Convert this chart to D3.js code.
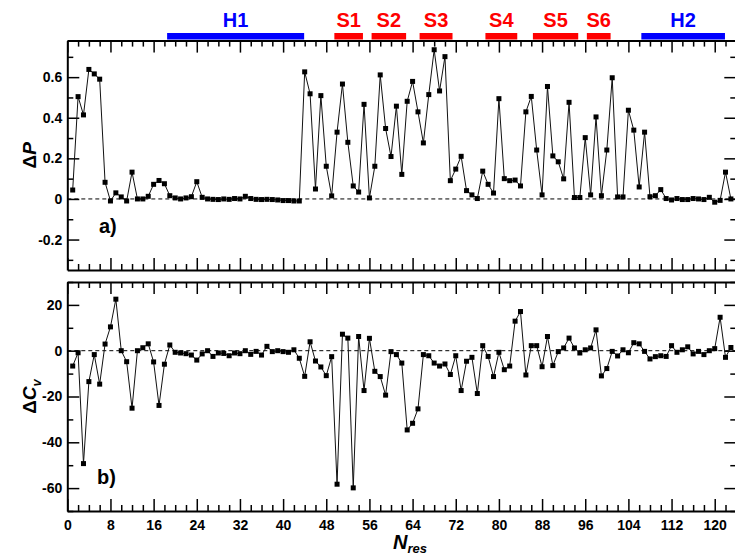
<!DOCTYPE html>
<html>
<head>
<meta charset="utf-8">
<script src="https://cdnjs.cloudflare.com/ajax/libs/d3/7.8.5/d3.min.js"></script>
<style>
  body { margin: 0; background: #fff; }
  svg { display: block; }
  text { font-family: "Liberation Sans", Arial, Helvetica, sans-serif; font-weight: bold; fill: #000; }
</style>
</head>
<body>
<div id="chart"></div>
<script>
// Data
// ================================
var residues = d3.range(1, 124);

var deltaP = [
  0.044, 0.504, 0.414, 0.638, 0.616, 0.590, 0.082, -0.010, 0.030, 0.010,
  -0.010, 0.132, 0.000, 0.000, 0.013, 0.072, 0.091, 0.075, 0.016, 0.005,
  0.000, 0.005, 0.011, 0.085, 0.008, 0.000, -0.002, -0.003, 0.000, -0.002,
  0.002, 0.000, 0.013, 0.002, -0.002, -0.003, -0.002, -0.003, -0.005, -0.008,
  -0.008, -0.010, -0.010, 0.626, 0.518, 0.049, 0.509, 0.161, 0.015, 0.329,
  0.566, 0.279, 0.064, 0.034, 0.466, 0.005, 0.161, 0.611, 0.347, 0.209,
  0.457, 0.121, 0.481, 0.579, 0.429, 0.276, 0.514, 0.735, 0.532, 0.701,
  0.090, 0.147, 0.210, 0.041, 0.020, 0.002, 0.137, 0.072, 0.029, 0.494,
  0.100, 0.090, 0.093, 0.064, 0.429, 0.505, 0.241, 0.020, 0.554, 0.212,
  0.183, 0.099, 0.476, 0.007, 0.007, 0.302, 0.020, 0.404, 0.016, 0.241,
  0.597, 0.010, 0.010, 0.437, 0.339, 0.059, 0.329, 0.011, 0.016, 0.046,
  0.002, -0.005, 0.002, -0.003, -0.003, 0.002, 0.000, -0.003, 0.008, -0.016,
  -0.007, 0.132, 0.000
];

var deltaCv = [
  -6.7, -0.9, -49.3, -13.5, -1.7, -14.6, 2.9, 10.4, 22.5, 0,
  -4.8, -25.1, 0, 1.3, 3.0, -4.9, -23.9, -5.9, 2.5, -0.7,
  -1.0, -1.3, -1.9, -4.1, -1.4, 0, -2.5, -1.0, -1.2, -2.2,
  -1.0, -1.3, 0, -1.6, -0.3, -1.9, 1.9, -0.4, 0, -0.4,
  -0.7, 0.4, -3.3, -11.2, 3.9, -4.5, -7.1, -10.9, -2.6, -58.3,
  7.2, 5.5, -59.9, 6.2, -17.4, 5.4, -9.0, -11.3, -19.4, -0.4,
  -1.7, -5.4, -34.6, -31.7, -25.4, -1.7, -2.2, -5.4, -6.7, -5.8,
  -10.4, -2.2, -17.4, -4.6, -2.9, -18.7, 2.2, -2.5, -11.3, -0.7,
  -8.3, -6.7, 12.9, 17.1, -10.6, 2.2, 2.2, -7.0, 6.2, -6.5,
  -0.4, 1.2, 5.5, 1.2, -1.0, 0.4, 1.2, 9.1, -11.0, -7.8,
  -0.3, -2.3, 0.4, -0.9, 3.5, 3.0, -0.3, -3.6, -2.6, -2.2,
  -2.5, 2.2, -0.7, 0.4, 1.7, -1.4, -0.3, -1.7, 0, 0.9,
  14.6, -2.9, 1.4
];

// secondary structure segments (residue numbers)
var segNames = ["H1", "S1", "S2", "S3", "S4", "S5", "S6", "H2"];
var segStart = [18.5, 49.5, 56.4, 65.3, 77.5, 86.3, 96.3, 106.4];
var segEnd = [43.9, 54.8, 62.8, 71.4, 83.4, 94.7, 100.7, 121.9];

var xTicks = d3.range(0, 121, 8);
var pTicks = [-0.2, 0, 0.2, 0.4, 0.6];
var cvTicks = [-60, -40, -20, 0, 20];

// Set up chart
// ================================
var svgWidth = 735;
var svgHeight = 556;

var svg = d3.select("#chart")
  .append("svg")
  .attr("width", svgWidth)
  .attr("height", svgHeight);

var x = d3.scaleLinear().domain([0, 124]).range([67.3, 736.3]);
var yP = d3.scaleLinear().domain([-0.35, 0.78]).range([270, 40.6]);
var yC = d3.scaleLinear().domain([-70, 30]).range([511, 282]);

var xLeft = x.range()[0];
var xRight = x.range()[1];

function styleAxis(g) {
  g.select(".domain").attr("stroke", "#000").attr("stroke-width", 2);
  g.selectAll(".tick line").attr("stroke", "#000").attr("stroke-width", 1.5);
  g.selectAll(".tick text")
    .attr("fill", "#000")
    .style("font-size", "14px")
    .style("font-weight", "bold")
    .style("font-family", "'Liberation Sans', Arial, sans-serif");
}

function drawPanel(y, yMajor, yMinorStep, fmt, data, showXLabels) {
  var yTop = y.range()[1];
  var yBot = y.range()[0];
  var yDom = y.domain();
  var xMinor = d3.range(0, 125, 2).filter(d => d % 8 !== 0);
  var yMinor = d3.range(Math.ceil(yDom[0] / yMinorStep), Math.floor(yDom[1] / yMinorStep) + 1)
    .map(k => +(k * yMinorStep).toFixed(3))
    .filter(v => yMajor.indexOf(v) < 0);

  // bottom x axis (ticks inward)
  var gb = svg.append("g").attr("transform", `translate(0, ${yBot})`)
    .call(d3.axisBottom(x).tickValues(xTicks).tickSize(-12).tickSizeOuter(0)
      .tickPadding(9).tickFormat(showXLabels ? d3.format("d") : ""));
  styleAxis(gb);
  var gbm = svg.append("g").attr("transform", `translate(0, ${yBot})`)
    .call(d3.axisBottom(x).tickValues(xMinor).tickSize(-6).tickFormat(""));
  gbm.select(".domain").remove();
  styleAxis(gbm);

  // top x axis
  var gt = svg.append("g").attr("transform", `translate(0, ${yTop})`)
    .call(d3.axisTop(x).tickValues(xTicks).tickSize(-12).tickSizeOuter(0).tickFormat(""));
  styleAxis(gt);
  var gtm = svg.append("g").attr("transform", `translate(0, ${yTop})`)
    .call(d3.axisTop(x).tickValues(xMinor).tickSize(-6).tickFormat(""));
  gtm.select(".domain").remove();
  styleAxis(gtm);

  // left y axis
  var gl = svg.append("g").attr("transform", `translate(${xLeft}, 0)`)
    .call(d3.axisLeft(y).tickValues(yMajor).tickSize(-12).tickSizeOuter(0)
      .tickPadding(5).tickFormat(fmt));
  styleAxis(gl);
  var glm = svg.append("g").attr("transform", `translate(${xLeft}, 0)`)
    .call(d3.axisLeft(y).tickValues(yMinor).tickSize(-6).tickFormat(""));
  glm.select(".domain").remove();
  styleAxis(glm);

  // right y axis
  var gr = svg.append("g").attr("transform", `translate(${xRight}, 0)`)
    .call(d3.axisRight(y).tickValues(yMajor).tickSize(-12).tickSizeOuter(0).tickFormat(""));
  styleAxis(gr);
  var grm = svg.append("g").attr("transform", `translate(${xRight}, 0)`)
    .call(d3.axisRight(y).tickValues(yMinor).tickSize(-6).tickFormat(""));
  grm.select(".domain").remove();
  styleAxis(grm);

  // dashed zero line
  svg.append("line")
    .attr("x1", xLeft).attr("x2", xRight)
    .attr("y1", y(0)).attr("y2", y(0))
    .attr("stroke", "#000")
    .attr("stroke-width", 1)
    .attr("stroke-dasharray", "4,3");

  // line + square markers
  var line = d3.line()
    .x((d, i) => x(residues[i]))
    .y(d => y(d));

  svg.append("path")
    .datum(data)
    .attr("d", line)
    .attr("fill", "none")
    .attr("stroke", "#111")
    .attr("stroke-width", 1);

  svg.append("g").selectAll("rect")
    .data(data)
    .enter()
    .append("rect")
    .attr("x", (d, i) => x(residues[i]) - 2.5)
    .attr("y", d => y(d) - 2.5)
    .attr("width", 5)
    .attr("height", 5)
    .attr("fill", "#000");
}

drawPanel(yP, pTicks, 0.1, d => d === 0 ? "0" : d.toFixed(1), deltaP, false);
drawPanel(yC, cvTicks, 10, d => String(d), deltaCv, true);

// secondary structure bars
// ================================
var segGroup = svg.append("g");
segGroup.selectAll("rect")
  .data(segNames)
  .enter()
  .append("rect")
  .attr("x", (d, i) => x(segStart[i]))
  .attr("y", 33)
  .attr("width", (d, i) => x(segEnd[i]) - x(segStart[i]))
  .attr("height", 6.5)
  .attr("fill", d => d[0] === "H" ? "#0000ff" : "#ff0000");

segGroup.selectAll("text")
  .data(segNames)
  .enter()
  .append("text")
  .attr("x", (d, i) => (x(segStart[i]) + x(segEnd[i])) / 2)
  .attr("y", 26.5)
  .attr("text-anchor", "middle")
  .style("font-size", "20px")
  .style("fill", d => d[0] === "H" ? "#0000ff" : "#ff0000")
  .text(d => d);

// panel labels
svg.append("text").attr("x", 99).attr("y", 233).style("font-size", "20px").text("a)");
svg.append("text").attr("x", 97).attr("y", 484).style("font-size", "20px").text("b)");

// axis titles
var tP = svg.append("text")
  .attr("transform", `translate(36, ${(yP.range()[0] + yP.range()[1]) / 2}) rotate(-90)`)
  .attr("text-anchor", "middle")
  .style("font-size", "19px");
tP.append("tspan").text("\u0394");
tP.append("tspan").style("font-style", "italic").text("P");

var tC = svg.append("text")
  .attr("transform", `translate(36, ${(yC.range()[0] + yC.range()[1]) / 2}) rotate(-90)`)
  .attr("text-anchor", "middle")
  .style("font-size", "19px");
tC.append("tspan").text("\u0394");
tC.append("tspan").style("font-style", "italic").text("C");
tC.append("tspan").style("font-style", "italic").style("font-size", "13px").attr("dy", 5).text("v");

var tN = svg.append("text")
  .attr("x", 410)
  .attr("y", 549)
  .attr("text-anchor", "middle")
  .style("font-size", "20px");
tN.append("tspan").style("font-style", "italic").text("N");
tN.append("tspan").style("font-style", "italic").style("font-size", "13px").attr("dy", 4).text("res");
</script>
</body>
</html>
